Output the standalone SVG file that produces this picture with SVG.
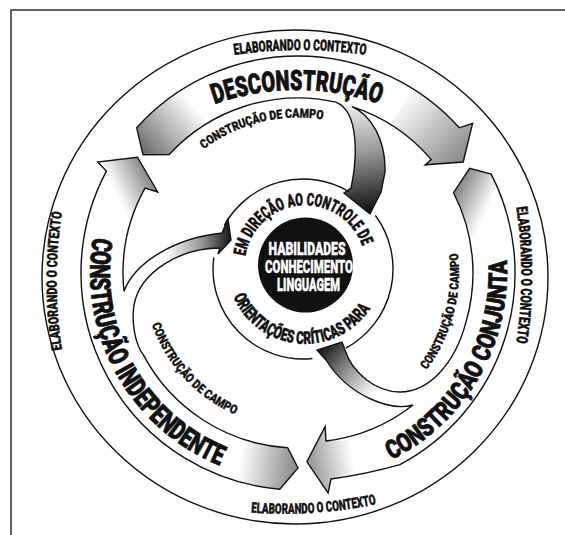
<svg xmlns="http://www.w3.org/2000/svg" width="565" height="535" viewBox="0 0 565 535">
  <style>
    .ln { fill: none; stroke: #111; stroke-width: 1.4; stroke-linejoin: miter; }
    .band { fill: #fff; }
    .t { font-family: Roboto, "DejaVu Sans Condensed", "Liberation Sans", sans-serif; font-weight: 900; fill: #111; stroke: #111; text-anchor: middle; }
    .big { font-size: 28px; stroke-width: 0.8; }
    .mid { font-size: 17.5px; stroke-width: 0.5; }
    .sm { font-size: 14.5px; stroke-width: 0.4; }
    .smb { font-size: 15.5px; stroke-width: 0.4; }
    .xs { font-size: 12.5px; stroke-width: 0.35; }
    .core { font-family: Roboto, "DejaVu Sans Condensed", "Liberation Sans", sans-serif; font-weight: 900; font-size: 18.5px; fill: #fff; stroke: #fff; stroke-width: 0.4; text-anchor: middle; }
  </style>
  <defs>
    <!-- opaque shading ramps for the local patches -->
    <linearGradient id="gTopTail" gradientUnits="userSpaceOnUse" x1="147" y1="158" x2="200" y2="112">
      <stop offset="0" stop-color="#6a6a6a"/>
      <stop offset="1" stop-color="#fff"/>
    </linearGradient>
    <linearGradient id="gTopHead" gradientUnits="userSpaceOnUse" x1="400" y1="100" x2="462" y2="160">
      <stop offset="0" stop-color="#fff"/>
      <stop offset="1" stop-color="#8a8a8a"/>
    </linearGradient>
    <linearGradient id="gRightTail" gradientUnits="userSpaceOnUse" x1="455" y1="182" x2="492" y2="200">
      <stop offset="0" stop-color="#777"/>
      <stop offset="1" stop-color="#fff"/>
    </linearGradient>
    <linearGradient id="gRightHead" gradientUnits="userSpaceOnUse" x1="310" y1="462" x2="352" y2="455">
      <stop offset="0" stop-color="#999"/>
      <stop offset="1" stop-color="#fff"/>
    </linearGradient>
    <linearGradient id="gLeftTail" gradientUnits="userSpaceOnUse" x1="296" y1="466" x2="240" y2="458">
      <stop offset="0" stop-color="#8a8a8a"/>
      <stop offset="1" stop-color="#fff"/>
    </linearGradient>
    <linearGradient id="gLeftHead" gradientUnits="userSpaceOnUse" x1="100" y1="205" x2="150" y2="180">
      <stop offset="0" stop-color="#fff"/>
      <stop offset="0.35" stop-color="#fff"/>
      <stop offset="1" stop-color="#8c8c8c"/>
    </linearGradient>
    <linearGradient id="gDark" gradientUnits="userSpaceOnUse" x1="350" y1="105" x2="365" y2="212">
      <stop offset="0" stop-color="#eee"/>
      <stop offset="0.45" stop-color="#999"/>
      <stop offset="1" stop-color="#111"/>
    </linearGradient>
    <linearGradient id="gLeftBranch" gradientUnits="userSpaceOnUse" x1="165" y1="240" x2="230" y2="240">
      <stop offset="0" stop-color="#fff"/>
      <stop offset="0.55" stop-color="#999"/>
      <stop offset="1" stop-color="#1a1a1a"/>
    </linearGradient>
    <linearGradient id="gBrBranch" gradientUnits="userSpaceOnUse" x1="372" y1="396" x2="322" y2="352">
      <stop offset="0" stop-color="#fff"/>
      <stop offset="0.5" stop-color="#999"/>
      <stop offset="1" stop-color="#222"/>
    </linearGradient>

    <!-- band outlines (ring centre 298,273; radii 175 / 217) -->
    <path id="bandTop" d="M136.7,127.8 A217,217 0 0 1 459.3,127.8 L472.6,123.3 L463.2,162 L425.2,164.8 L431.3,159.6 A175,175 0 0 0 352.1,106.6 C371,115 386,140 385,172 L381,192 L370,214 L344,193 L351,188 C357,160 360,112 335.9,102.1 A175,175 0 0 0 169.2,154.5 L143,154.8 Z"/>
    <path id="bandRight" d="M491.2,174.1 A217,217 0 0 1 399.9,464.6 Q367,474 331,479 L328.1,492.9 L306.9,461.8 L325.1,426.6 L326,441 A175,175 0 0 0 413,405 C392,411 350,398 326,360 L317,350 L342,342 L345,350 C352,372 375,392 400,392 C428,392 455,365 466.2,321.2 A175,175 0 0 0 453.5,192.7 L469.6,168.3 Z"/>
    <path id="bandLeft" d="M279.8,489.2 A217,217 0 0 1 106.4,171.1 L97.7,162 L137.4,157.2 L157.7,192 L145,188.2 A175,175 0 0 0 124,291.3 C135,262 175,238 222,233 L228,219 L231,240 L218,254 L220,248 C180,248 140,272 134,305 C131,325 136,345 143.5,355.2 A175,175 0 0 0 287.6,447.7 L298,468 Z"/>

    <!-- text baselines -->
    <path id="pElabTop" d="M180,66.5 A450,450 0 0 1 420,66.5"/>
    <path id="pElabRight" d="M505,155 A450,450 0 0 1 505,395"/>
    <path id="pElabBottom" d="M193.2,504.5 A450,450 0 0 0 432.6,488.6"/>
    <path id="pElabLeft" d="M73,401 A450,450 0 0 1 73,161"/>
    <path id="pDesc" d="M177,120.7 A250,250 0 0 1 417,120.7"/>
    <path id="pConj" d="M352.1,474.9 A209,209 0 0 0 499.9,218.9"/>
    <path id="pIndep" d="M98.1,215.7 A208,208 0 0 0 240.7,472.9"/>
    <path id="pCampoTop" d="M163.3,195.25 A155.5,155.5 0 0 1 380.4,141.1"/>
    <path id="pCampoRight" d="M378.5,412.4 A161,161 0 0 0 437.4,192.5"/>
    <path id="pCampoLeft" d="M143.1,266.9 A155,155 0 0 0 291.9,427.9"/>
    <path id="pEm" d="M244.5,266 A60.5,60.5 0 0 1 364.6,255.5"/>
    <path id="pOrient" d="M227,266 A78,78 0 0 0 381.8,279.5"/>
  </defs>

  <!-- frame -->
  <path d="M11,535 V10 H565" fill="none" stroke="#333" stroke-width="1.5"/>

  <!-- outer context ring -->
  <g id="context-ring">
    <ellipse class="ln" cx="295" cy="277" rx="253" ry="247"/>
    <text class="t smb"><textPath href="#pElabTop" startOffset="50%" textLength="132" lengthAdjust="spacingAndGlyphs">ELABORANDO O CONTEXTO</textPath></text>
    <text class="t smb"><textPath href="#pElabRight" startOffset="50%" textLength="136" lengthAdjust="spacingAndGlyphs">ELABORANDO O CONTEXTO</textPath></text>
    <text class="t sm"><textPath href="#pElabBottom" startOffset="50%" textLength="126" lengthAdjust="spacingAndGlyphs">ELABORANDO O CONTEXTO</textPath></text>
    <text class="t sm"><textPath href="#pElabLeft" startOffset="50%" textLength="138" lengthAdjust="spacingAndGlyphs">ELABORANDO O CONTEXTO</textPath></text>
  </g>

  <!-- band: deconstruction (top) -->
  <g id="band-desconstrucao">
    <use href="#bandTop" class="band"/>
    <path fill="url(#gTopTail)" d="M136.7,127.8 A217,217 0 0 1 196.1,81.4 L215.8,118.5 A175,175 0 0 0 169.2,154.5 L143,154.8 Z"/>
    <path fill="url(#gTopHead)" d="M413,89 A217,217 0 0 1 459.3,127.8 L472.6,123.3 L463.2,162 L425.2,164.8 L431.3,159.6 A175,175 0 0 0 390.7,124.6 Z"/>
  </g>

  <!-- band: joint construction (right) -->
  <g id="band-conjunta">
    <use href="#bandRight" class="band"/>
    <path fill="url(#gRightTail)" d="M491.2,174.1 A217,217 0 0 1 510.3,227.9 L469.2,236.6 A175,175 0 0 0 453.5,192.7 L469.6,168.3 Z"/>
    <path fill="url(#gRightHead)" d="M366,473 Q349,477 331,479 L328.1,492.9 L306.9,461.8 L325.1,426.6 L326,441 A175,175 0 0 0 352.1,439.4 Z"/>
  </g>

  <!-- band: independent construction (left) -->
  <g id="band-independente">
    <use href="#bandLeft" class="band"/>
    <path fill="url(#gLeftTail)" d="M279.8,489.2 A217,217 0 0 1 223.8,476.9 L238.1,437.4 A175,175 0 0 0 287.6,447.7 L298,468 Z"/>
    <path fill="url(#gLeftHead)" d="M88.4,216.8 A217,217 0 0 1 106.4,171.1 L97.7,162 L137.4,157.2 L157.7,192 L145,188.2 A175,175 0 0 0 129,227.7 Z"/>
  </g>

  <!-- branch arrows leading into the centre -->
  <g id="connectors">
    <path fill="url(#gDark)" d="M352.1,106.6 C371,115 386,140 385,172 L381,192 L370,214 L344,193 L351,188 C357,160 360,112 335.9,102.1 A175,175 0 0 1 352.1,106.6 Z"/>
    <path fill="url(#gBrBranch)" d="M413,405 C392,411 350,398 326,360 L317,350 L342,342 L345,350 C352,372 375,392 400,392 C428,392 455,365 466.2,321.2 A175,175 0 0 1 413,405 Z"/>
    <path fill="url(#gLeftBranch)" d="M124,291.3 C135,262 175,238 222,233 L228,219 L231,240 L218,254 L220,248 C180,248 140,272 134,305 C131,325 136,345 143.5,355.2 A175,175 0 0 1 124,291.3 Z"/>
  </g>

  <!-- band outlines and labels -->
  <g id="band-labels">
    <use href="#bandTop" class="ln"/>
    <use href="#bandRight" class="ln"/>
    <use href="#bandLeft" class="ln"/>
    <text class="t big"><textPath href="#pDesc" startOffset="50%" textLength="168" lengthAdjust="spacingAndGlyphs">DESCONSTRUÇÃO</textPath></text>
    <text class="t big" style="font-size:26px"><textPath href="#pConj" startOffset="50%" textLength="244" lengthAdjust="spacingAndGlyphs">CONSTRUÇÃO CONJUNTA</textPath></text>
    <text class="t big"><textPath href="#pIndep" startOffset="50%" textLength="282" lengthAdjust="spacingAndGlyphs">CONSTRUÇÃO INDEPENDENTE</textPath></text>
    <text class="t xs"><textPath href="#pCampoTop" startOffset="50%" textLength="126" lengthAdjust="spacingAndGlyphs">CONSTRUÇÃO DE CAMPO</textPath></text>
    <text class="t xs"><textPath href="#pCampoRight" startOffset="50%" textLength="124" lengthAdjust="spacingAndGlyphs">CONSTRUÇÃO DE CAMPO</textPath></text>
    <text class="t xs"><textPath href="#pCampoLeft" startOffset="50%" textLength="126" lengthAdjust="spacingAndGlyphs">CONSTRUÇÃO DE CAMPO</textPath></text>
  </g>

  <!-- inner ring -->
  <g id="inner-ring">
    <path class="ln" d="M224.3,225.4 A90,90 0 0 1 348.8,191.5"/>
    <path class="ln" d="M375.4,215.5 A90,90 0 0 1 345.9,348.1"/>
    <path class="ln" d="M312.4,358.5 A90,90 0 0 1 213.8,257.3"/>
    <text class="t mid"><textPath href="#pEm" startOffset="50%" textLength="160" lengthAdjust="spacingAndGlyphs">EM DIREÇÃO AO CONTROLE DE</textPath></text>
    <text class="t mid"><textPath href="#pOrient" startOffset="50%" textLength="168" lengthAdjust="spacingAndGlyphs">ORIENTAÇÕES CRÍTICAS PARA</textPath></text>
  </g>

  <!-- core -->
  <g id="core">
    <circle cx="305.5" cy="265" r="47.5" fill="#111"/>
    <text class="core" x="307" y="255" textLength="77" lengthAdjust="spacingAndGlyphs">HABILIDADES</text>
    <text class="core" x="309" y="273" textLength="88" lengthAdjust="spacingAndGlyphs">CONHECIMENTO</text>
    <text class="core" x="308.5" y="291" textLength="63" lengthAdjust="spacingAndGlyphs">LINGUAGEM</text>
  </g>
</svg>
